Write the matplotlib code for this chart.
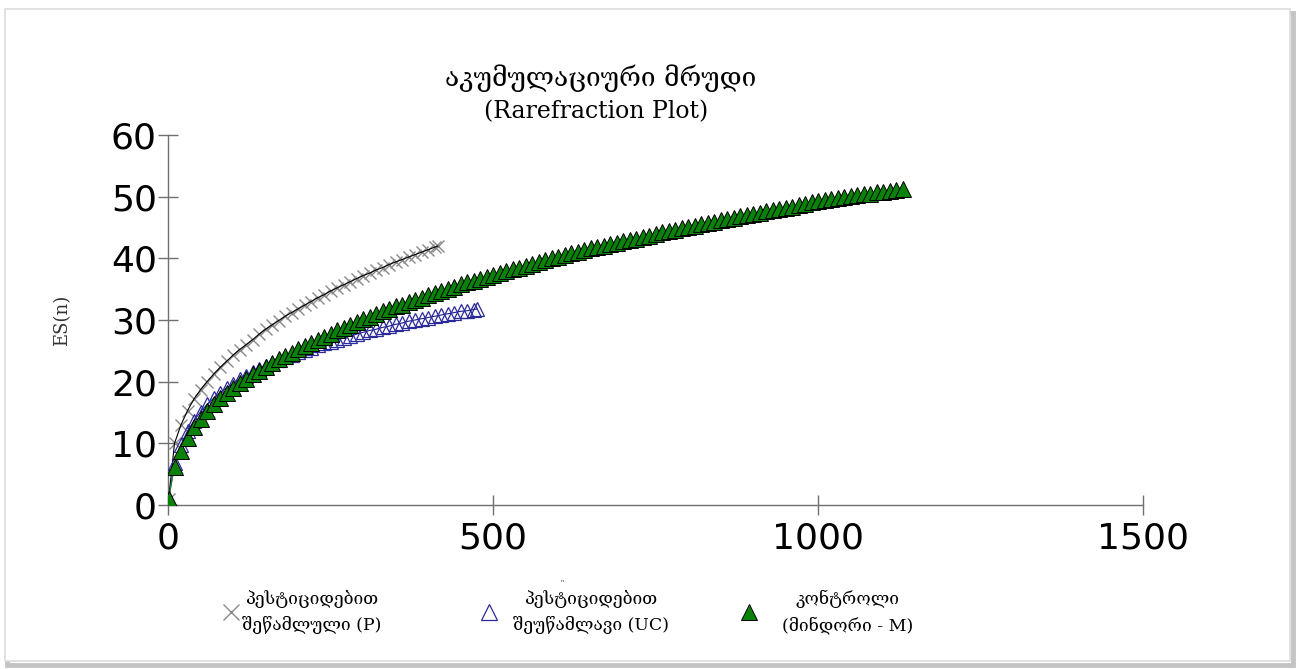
import matplotlib.pyplot as plt
from matplotlib.lines import Line2D
from matplotlib.patches import Rectangle

# -------------------------------
# Data
# -------------------------------

p_n = [1] + list(range(10, 411, 10)) + [415]
p_es = [1.0, 10.0, 13.0, 15.3, 17.2, 18.7, 20.0, 21.2, 22.3, 23.3,
        24.3, 25.2, 26.0, 26.8, 27.7, 28.5, 29.2, 29.9, 30.6, 31.2,
        31.8, 32.4, 33.0, 33.6, 34.1, 34.7, 35.2, 35.7, 36.2, 36.7,
        37.2, 37.6, 38.1, 38.5, 39.0, 39.4, 39.8, 40.2, 40.6, 41.0,
        41.4, 41.8, 42.0]

uc_n = [1] + list(range(10, 471, 10)) + [476]
uc_es = [1.0, 6.8, 9.8, 12.0, 13.7, 15.1, 16.3, 17.3, 18.2, 19.0,
         19.7, 20.4, 21.0, 21.6, 22.1, 22.6, 23.1, 23.5, 24.0, 24.4,
         24.8, 25.2, 25.5, 25.9, 26.2, 26.5, 26.8, 27.1, 27.4, 27.7,
         28.0, 28.3, 28.5, 28.8, 29.0, 29.3, 29.5, 29.8, 30.0, 30.2,
         30.4, 30.6, 30.8, 31.0, 31.2, 31.4, 31.5, 31.7, 31.8]

m_n = [1] + list(range(10, 1131, 10))
m_es = [1.0, 6.2, 8.8, 10.9, 12.6, 14.0, 15.2, 16.3, 17.3, 18.2,
        19.0, 19.8, 20.5, 21.2, 21.8, 22.4, 23.0, 23.6, 24.2, 24.7,
        25.3, 25.8, 26.3, 26.8, 27.3, 27.8, 28.3, 28.7, 29.2, 29.6,
        30.1, 30.5, 30.9, 31.4, 31.8, 32.2, 32.5, 32.9, 33.3, 33.6,
        34.0, 34.4, 34.7, 35.1, 35.4, 35.8, 36.1, 36.4, 36.7, 37.0,
        37.3, 37.6, 37.9, 38.2, 38.5, 38.8, 39.1, 39.4, 39.7, 40.0,
        40.2, 40.5, 40.8, 41.0, 41.3, 41.6, 41.8, 42.0, 42.3, 42.5,
        42.8, 43.0, 43.2, 43.5, 43.7, 43.9, 44.2, 44.4, 44.6, 44.9,
        45.1, 45.3, 45.5, 45.7, 45.9, 46.2, 46.4, 46.6, 46.8, 47.0,
        47.2, 47.4, 47.6, 47.8, 48.0, 48.2, 48.4, 48.6, 48.8, 49.1,
        49.3, 49.4, 49.6, 49.8, 49.9, 50.1, 50.2, 50.4, 50.5, 50.7,
        50.8, 50.9, 51.1, 51.2]

labels = ["პესტიციდებით\nშეწამლული (P)",
          "პესტიციდებით\nშეუწამლავი (UC)",
          "კონტროლი\n(მინდორი - M)"]

title_ka = "აკუმულაციური მრუდი"
title_en = "(Rarefraction Plot)"

x_ticks = [0, 500, 1000, 1500]
y_ticks = [0, 10, 20, 30, 40, 50, 60]

serif = ["DejaVu Serif", "DejaVu Sans"]
sans = ["DejaVu Sans"]

# -------------------------------
# Figure
# -------------------------------

fig = plt.figure(figsize=(12.98, 6.69), dpi=100)

# page frame with a soft shadow
fig.patches.append(Rectangle((7 / 1298, 4 / 669), 1286 / 1298, 652 / 669,
                             transform=fig.transFigure, fill=False,
                             edgecolor="#c4c4c4", lw=3.5, zorder=-2))
fig.patches.append(Rectangle((5 / 1298, 8 / 669), 1285 / 1298, 652 / 669,
                             transform=fig.transFigure, fill=True,
                             facecolor="white", edgecolor="#dcdcdc",
                             lw=1.2, zorder=-1))

ax = fig.add_axes([168 / 1298, 164 / 669, 975 / 1298, 370 / 669])
ax.set_facecolor("none")
ax.set_zorder(1)

ax.plot(p_n, p_es, ls="none", marker="x", ms=8.5, mew=1.0,
        color="#8a8a8a", zorder=2)
ax.plot(p_n, p_es, color="black", lw=0.8, zorder=3)

ax.plot(uc_n, uc_es, color="#1c1c8e", lw=0.8, marker="^", ms=10.5,
        mfc="none", mec="#2a2a9a", mew=0.9, zorder=4)

ax.plot(m_n, m_es, color="#1a8a1a", lw=0.8, marker="^", ms=11,
        mfc="#0a820a", mec="black", mew=0.7, zorder=5)

ax.set_xlim(0, 1500)
ax.set_ylim(0, 60)
ax.set_xticks(x_ticks)
ax.set_yticks(y_ticks)

for side in ["top", "right"]:
    ax.spines[side].set_visible(False)
for side in ["left", "bottom"]:
    ax.spines[side].set_color("#707070")
    ax.spines[side].set_linewidth(1.0)

ax.tick_params(direction="inout", length=14, width=1.0, color="#707070",
               labelsize=26, labelcolor="black")
ax.tick_params(axis="y", pad=1)
ax.tick_params(axis="x", pad=5)
for t in ax.get_xticklabels() + ax.get_yticklabels():
    t.set_family(sans)

ax.set_ylabel("ES(n)", family=serif, fontsize=13, color="#333333")
ax.yaxis.set_label_coords(-97 / 975, 0.5)

# -------------------------------
# Titles
# -------------------------------

fig.text(601 / 1298, 1 - 78 / 669, title_ka, family=serif, fontsize=19,
         ha="center", va="center")
fig.text(596 / 1298, 1 - 112 / 669, title_en, family=serif, fontsize=17,
         ha="center", va="center")

# -------------------------------
# Legend (one small legend per entry, to match the spacing)
# -------------------------------

handles = [
    Line2D([], [], ls="none", marker="x", ms=12, mew=1.0, color="#8a8a8a"),
    Line2D([], [], ls="none", marker="^", ms=12, mfc="none",
           mec="#2a2a9a", mew=0.9),
    Line2D([], [], ls="none", marker="^", ms=12, mfc="#0a820a",
           mec="black", mew=0.7),
]
marker_x = [232, 490, 750]
text_pad = [0.15, 0.9, 1.4]

for h, lab, mx, tp in zip(handles, labels, marker_x, text_pad):
    leg = fig.legend([h], [lab], loc="center left", frameon=False,
                     bbox_to_anchor=((mx - 25.7) / 1298, 1 - 612 / 669),
                     prop={"family": serif, "size": 12.5},
                     handletextpad=tp, handlelength=1.0)
    for t in leg.get_texts():
        t.set_multialignment("center")
        t.set_linespacing(1.6)

fig.text(562 / 1298, 1 - 582 / 669, "ⁿ", fontsize=6, ha="center",
         va="center", color="#333333")

plt.savefig("out.png", dpi=100)
